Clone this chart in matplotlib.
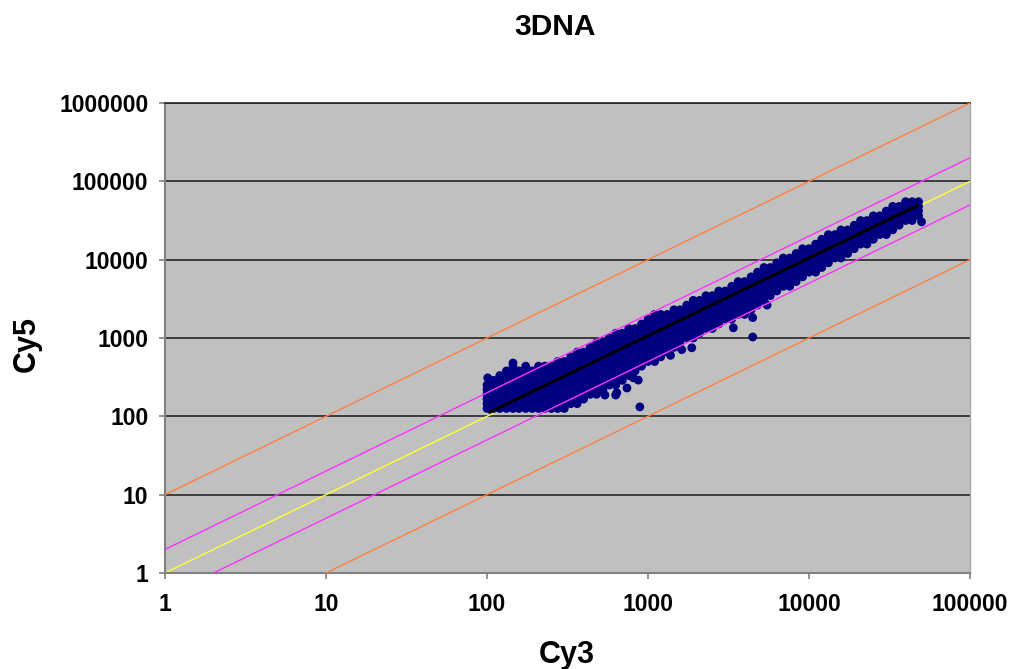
import matplotlib
matplotlib.use('Agg')
import matplotlib.pyplot as plt
import numpy as np
from matplotlib.ticker import FixedLocator, FixedFormatter, NullLocator

plt.rcParams['font.family'] = ['Liberation Sans', 'DejaVu Sans']

# ---------------- data ----------------
title = '3DNA'
x_label = 'Cy3'
y_label = 'Cy5'

x_ticks = [1, 10, 100, 1000, 10000, 100000]
x_tick_labels = ['1', '10', '100', '1000', '10000', '100000']
y_ticks = [1, 10, 100, 1000, 10000, 100000, 1000000]
y_tick_labels = ['1', '10', '100', '1000', '10000', '100000', '1000000']

# scatter cloud, read column by column (Cy3 value, Cy5 values at that Cy3)
col_x = [100, 110, 120, 132, 145, 158, 174, 191, 209, 229, 251, 275, 302, 331,
         363, 398, 437, 479, 525, 575, 631, 692, 759, 832, 912, 1000, 1100,
         1200, 1320, 1450, 1580, 1740, 1910, 2090, 2290, 2510, 2750, 3020,
         3310, 3630, 3980, 4370, 4790, 5250, 5750, 6310, 6920, 7590, 8320,
         9120, 10000, 11000, 12000, 13200, 14500, 15800, 17400, 19100, 20900,
         22900, 25100, 27500, 30200, 33100, 36300, 39800, 43700, 47900]
col_y = [
    [126, 145, 166, 191, 219, 251],
    [126, 145, 166, 191, 219, 251, 288],
    [126, 145, 166, 191, 219, 251, 288, 331],
    [126, 145, 166, 191, 219, 251, 288, 331, 380],
    [126, 145, 166, 191, 219, 251, 288, 331, 380, 437],
    [126, 145, 166, 191, 219, 251, 288, 331, 380],
    [126, 145, 166, 191, 219, 251, 288, 331, 380, 437],
    [126, 145, 166, 191, 219, 251, 288, 331, 380],
    [126, 145, 166, 191, 219, 251, 288, 331, 380, 437],
    [126, 145, 166, 191, 219, 251, 288, 331, 380, 437],
    [126, 145, 166, 191, 219, 251, 288, 331, 380, 437],
    [126, 145, 166, 191, 219, 251, 288, 331, 380, 437, 501],
    [126, 145, 166, 191, 219, 251, 288, 331, 380, 437, 501],
    [145, 166, 191, 219, 251, 288, 331, 380, 437, 501, 575],
    [145, 166, 191, 219, 251, 288, 331, 380, 437, 501, 575, 661],
    [166, 191, 219, 251, 288, 331, 380, 437, 501, 575, 661],
    [191, 219, 251, 288, 331, 380, 437, 501, 575, 661, 759],
    [191, 219, 251, 288, 331, 380, 437, 501, 575, 661, 759, 871],
    [219, 251, 288, 331, 380, 437, 501, 575, 661, 759, 871],
    [251, 288, 331, 380, 437, 501, 575, 661, 759, 871, 1000],
    [251, 288, 331, 380, 437, 501, 575, 661, 759, 871, 1000, 1150],
    [288, 331, 380, 437, 501, 575, 661, 759, 871, 1000, 1150],
    [331, 380, 437, 501, 575, 661, 759, 871, 1000, 1150, 1320],
    [380, 437, 501, 575, 661, 759, 871, 1000, 1150, 1320],
    [437, 501, 575, 661, 759, 871, 1000, 1150, 1320, 1510],
    [501, 575, 661, 759, 871, 1000, 1150, 1320, 1510, 1740],
    [501, 575, 661, 759, 871, 1000, 1150, 1320, 1510, 1740, 2000],
    [575, 661, 759, 871, 1000, 1150, 1320, 1510, 1740, 2000],
    [661, 759, 871, 1000, 1150, 1320, 1510, 1740, 2000],
    [759, 871, 1000, 1150, 1320, 1510, 1740, 2000, 2290],
    [871, 1000, 1150, 1320, 1510, 1740, 2000, 2290],
    [1000, 1150, 1320, 1510, 1740, 2000, 2290, 2630],
    [1000, 1150, 1320, 1510, 1740, 2000, 2290, 2630, 3020],
    [1150, 1320, 1510, 1740, 2000, 2290, 2630, 3020],
    [1320, 1510, 1740, 2000, 2290, 2630, 3020, 3470],
    [1320, 1510, 1740, 2000, 2290, 2630, 3020, 3470],
    [1510, 1740, 2000, 2290, 2630, 3020, 3470, 3980],
    [1740, 2000, 2290, 2630, 3020, 3470, 3980],
    [1740, 2000, 2290, 2630, 3020, 3470, 3980, 4570],
    [2000, 2290, 2630, 3020, 3470, 3980, 4570, 5250],
    [2000, 2290, 2630, 3020, 3470, 3980, 4570, 5250],
    [2290, 2630, 3020, 3470, 3980, 4570, 5250, 6030],
    [2630, 3020, 3470, 3980, 4570, 5250, 6030, 6920],
    [3020, 3470, 3980, 4570, 5250, 6030, 6920, 7940],
    [3470, 3980, 4570, 5250, 6030, 6920, 7940],
    [3980, 4570, 5250, 6030, 6920, 7940, 9120],
    [4570, 5250, 6030, 6920, 7940, 9120, 10500],
    [4570, 5250, 6030, 6920, 7940, 9120, 10500],
    [5250, 6030, 6920, 7940, 9120, 10500, 12000],
    [6030, 6920, 7940, 9120, 10500, 12000, 13800],
    [6920, 7940, 9120, 10500, 12000, 13800],
    [6920, 7940, 9120, 10500, 12000, 13800, 15800],
    [7940, 9120, 10500, 12000, 13800, 15800, 18200],
    [9120, 10500, 12000, 13800, 15800, 18200, 20900],
    [10500, 12000, 13800, 15800, 18200, 20900],
    [10500, 12000, 13800, 15800, 18200, 20900, 24000],
    [12000, 13800, 15800, 18200, 20900, 24000],
    [13800, 15800, 18200, 20900, 24000, 27500],
    [15800, 18200, 20900, 24000, 27500, 31600],
    [15800, 18200, 20900, 24000, 27500, 31600],
    [18200, 20900, 24000, 27500, 31600, 36300],
    [20900, 24000, 27500, 31600, 36300],
    [20900, 24000, 27500, 31600, 36300, 41700],
    [24000, 27500, 31600, 36300, 41700, 47900],
    [27500, 31600, 36300, 41700, 47900],
    [31600, 36300, 41700, 47900, 55000],
    [31600, 36300, 41700, 47900, 55000],
    [36300, 41700, 47900, 55000],
]

# isolated points outside the main cloud
out_x = [101, 145, 540, 630, 640, 740, 810, 870, 890, 1380, 1620, 1870,
         3390, 4470, 4470, 5490, 50000]
out_y = [310, 480, 187, 187, 200, 230, 310, 290, 132, 600, 710, 750,
         1350, 1820, 1030, 2630, 30400]

# fitted trend line end points
trend_x = [104, 46800]
trend_y = [113, 48500]

# fold-change reference lines: Cy5 = ratio * Cy3
fold_x = [0.01, 1000000]
fold_ratios = [1, 2, 0.5, 10, 0.1]
fold_colors = ['#FFFF33', '#FF33FF', '#FF33FF', '#FF8040', '#FF8040']
fold_layers = [1.5, 3, 3, 3, 3]

# ---------------- drawing ----------------
fig = plt.figure(figsize=(10.10, 6.69), dpi=100)
ax = fig.add_axes([0.16337, 0.14350, 0.79703, 0.70254])
ax.set_facecolor('#C0C0C0')
ax.set_xscale('log')
ax.set_yscale('log')
ax.set_xlim(1, 100000)
ax.set_ylim(1, 1000000)

cloud_x = []
cloud_y = []
for xv, ys in zip(col_x, col_y):
    for yv in ys:
        cloud_x.append(xv)
        cloud_y.append(yv)
cloud_x += out_x
cloud_y += out_y

ax.scatter(cloud_x, cloud_y, s=40, marker='o', color='#000080',
           edgecolors='none', zorder=2)

for ratio, color, z in zip(fold_ratios, fold_colors, fold_layers):
    ax.plot(fold_x, [ratio * v for v in fold_x], color=color, lw=1.0, zorder=z)

ax.plot(trend_x, trend_y, color='black', lw=2.2, zorder=4)

ax.xaxis.set_major_locator(FixedLocator(x_ticks))
ax.xaxis.set_major_formatter(FixedFormatter(x_tick_labels))
ax.yaxis.set_major_locator(FixedLocator(y_ticks))
ax.yaxis.set_major_formatter(FixedFormatter(y_tick_labels))
ax.xaxis.set_minor_locator(NullLocator())
ax.yaxis.set_minor_locator(NullLocator())

ax.set_axisbelow(True)
ax.yaxis.grid(True, color='#262626', lw=1.2)
ax.xaxis.grid(False)

ax.tick_params(axis='both', which='major', direction='out', length=4.5,
               width=1.2, color='#808080', labelsize=16.5)
ax.tick_params(axis='y', pad=7.5)
ax.tick_params(axis='x', pad=10)
for lab in ax.get_xticklabels() + ax.get_yticklabels():
    lab.set_fontweight('bold')

for side in ['left', 'bottom']:
    ax.spines[side].set_color('#808080')
    ax.spines[side].set_linewidth(1.5)
ax.spines['right'].set_color('#A8A8A8')
ax.spines['right'].set_linewidth(1.0)
ax.spines['top'].set_color('#262626')
ax.spines['top'].set_linewidth(1.2)

fig.text(555 / 1010, 1 - 27 / 669, title, ha='center', va='center',
         fontsize=21.5, fontweight='bold')
fig.text(567 / 1010, 1 - 655 / 669, x_label, ha='center', va='center',
         fontsize=22, fontweight='bold')
fig.text(27 / 1010, 1 - 344 / 669, y_label, ha='center', va='center',
         rotation=90, fontsize=22, fontweight='bold')

fig.savefig('out.png', dpi=100, facecolor='white')
